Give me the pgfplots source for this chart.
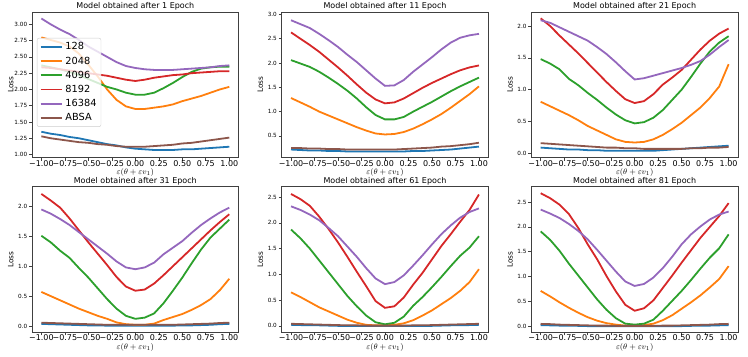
\documentclass[border=0pt]{standalone}
\usepackage{fontspec}
\setmainfont{DejaVu Sans}
\usepackage{pgfplots}
\usepackage{pgfplotstable}
\pgfplotsset{compat=1.18}
\usepgfplotslibrary{groupplots}
\usetikzlibrary{calc}

\definecolor{c0}{HTML}{1F77B4}
\definecolor{c1}{HTML}{FF7F0E}
\definecolor{c2}{HTML}{2CA02C}
\definecolor{c3}{HTML}{D62728}
\definecolor{c4}{HTML}{9467BD}
\definecolor{c5}{HTML}{8C564B}

% columns: b=128, o=2048, g=4096, r=8192, p=16384, a=ABSA
\pgfplotstableread{
x b o g r p a
-1.0 1.35 2.80 2.37 2.34 3.09 1.28
-0.9 1.32 2.76 2.34 2.33 3.00 1.25
-0.8 1.30 2.72 2.31 2.31 2.92 1.23
-0.7 1.27 2.66 2.27 2.29 2.85 1.21
-0.6 1.25 2.55 2.22 2.27 2.76 1.19
-0.5 1.22 2.38 2.16 2.25 2.66 1.18
-0.4 1.19 2.20 2.10 2.23 2.58 1.16
-0.3 1.16 2.00 2.04 2.21 2.50 1.15
-0.2 1.14 1.84 2.00 2.18 2.42 1.13
-0.1 1.11 1.74 1.95 2.15 2.36 1.12
0.0 1.09 1.70 1.92 2.13 2.33 1.12
0.1 1.08 1.70 1.92 2.15 2.31 1.12
0.2 1.07 1.72 1.95 2.18 2.30 1.13
0.3 1.07 1.74 2.02 2.20 2.30 1.14
0.4 1.07 1.77 2.10 2.22 2.30 1.15
0.5 1.08 1.82 2.19 2.23 2.31 1.17
0.6 1.08 1.86 2.27 2.25 2.32 1.18
0.7 1.09 1.90 2.32 2.26 2.33 1.20
0.8 1.10 1.95 2.34 2.27 2.34 1.22
0.9 1.11 2.00 2.35 2.28 2.36 1.24
1.0 1.12 2.04 2.35 2.28 2.37 1.26
}\epA

\pgfplotstableread{
x b o g r p a
-1.0 0.22 1.28 2.06 2.63 2.88 0.25
-0.9 0.21 1.19 1.99 2.50 2.80 0.25
-0.8 0.20 1.10 1.92 2.37 2.72 0.24
-0.7 0.20 1.00 1.82 2.23 2.60 0.24
-0.6 0.19 0.92 1.70 2.07 2.47 0.23
-0.5 0.19 0.84 1.57 1.91 2.33 0.23
-0.4 0.18 0.76 1.43 1.74 2.17 0.22
-0.3 0.18 0.68 1.27 1.56 2.02 0.22
-0.2 0.18 0.61 1.09 1.39 1.85 0.22
-0.1 0.18 0.55 0.93 1.25 1.68 0.22
0.0 0.18 0.53 0.84 1.17 1.53 0.22
0.1 0.18 0.54 0.84 1.19 1.54 0.22
0.2 0.18 0.58 0.89 1.27 1.65 0.23
0.3 0.19 0.65 1.00 1.38 1.82 0.24
0.4 0.19 0.74 1.10 1.49 1.97 0.25
0.5 0.20 0.84 1.20 1.59 2.12 0.26
0.6 0.21 0.95 1.31 1.68 2.28 0.28
0.7 0.22 1.08 1.42 1.77 2.42 0.29
0.8 0.24 1.22 1.52 1.85 2.52 0.31
0.9 0.26 1.36 1.61 1.91 2.57 0.33
1.0 0.28 1.52 1.70 1.95 2.60 0.36
}\epB

\pgfplotstableread{
x b o g r p a
-1.0 0.09 0.81 1.48 2.12 2.09 0.16
-0.9 0.08 0.74 1.41 2.00 2.05 0.15
-0.8 0.07 0.67 1.32 1.85 1.98 0.14
-0.7 0.06 0.60 1.17 1.71 1.91 0.13
-0.6 0.06 0.52 1.07 1.57 1.84 0.12
-0.5 0.05 0.43 0.95 1.42 1.77 0.11
-0.4 0.05 0.36 0.84 1.27 1.67 0.10
-0.3 0.04 0.29 0.72 1.12 1.56 0.09
-0.2 0.04 0.22 0.61 0.98 1.43 0.09
-0.1 0.04 0.18 0.52 0.85 1.29 0.08
0.0 0.04 0.17 0.47 0.79 1.16 0.08
0.1 0.04 0.18 0.49 0.82 1.18 0.07
0.2 0.04 0.22 0.56 0.93 1.22 0.07
0.3 0.05 0.29 0.68 1.08 1.26 0.07
0.4 0.06 0.38 0.84 1.19 1.30 0.07
0.5 0.07 0.48 1.00 1.31 1.34 0.07
0.6 0.08 0.60 1.20 1.47 1.39 0.08
0.7 0.09 0.72 1.41 1.63 1.45 0.08
0.8 0.10 0.87 1.60 1.77 1.55 0.09
0.9 0.11 1.05 1.74 1.88 1.67 0.09
1.0 0.12 1.40 1.84 1.96 1.78 0.10
}\epC

\pgfplotstableread{
x b o g r p a
-1.0 0.035 0.57 1.51 2.21 1.95 0.055
-0.9 0.030 0.50 1.40 2.10 1.88 0.050
-0.8 0.025 0.43 1.26 1.98 1.79 0.045
-0.7 0.020 0.36 1.14 1.80 1.69 0.040
-0.6 0.015 0.29 0.97 1.60 1.57 0.035
-0.5 0.010 0.23 0.81 1.40 1.45 0.030
-0.4 0.010 0.17 0.63 1.21 1.33 0.025
-0.3 0.005 0.12 0.45 1.02 1.21 0.020
-0.2 0.005 0.06 0.29 0.82 1.08 0.020
-0.1 0.005 0.03 0.17 0.66 0.98 0.020
0.0 0.005 0.02 0.12 0.59 0.95 0.020
0.1 0.005 0.02 0.14 0.61 0.98 0.020
0.2 0.005 0.04 0.21 0.71 1.06 0.020
0.3 0.005 0.10 0.38 0.85 1.20 0.020
0.4 0.005 0.15 0.59 1.00 1.31 0.020
0.5 0.010 0.20 0.81 1.15 1.42 0.025
0.6 0.010 0.27 1.05 1.30 1.56 0.030
0.7 0.015 0.35 1.28 1.45 1.69 0.035
0.8 0.020 0.45 1.48 1.60 1.80 0.040
0.9 0.030 0.60 1.63 1.74 1.90 0.050
1.0 0.035 0.79 1.78 1.87 1.98 0.055
}\epD

\pgfplotstableread{
x b o g r p a
-1.0 0.020 0.65 1.87 2.56 2.32 0.040
-0.9 0.015 0.56 1.70 2.46 2.25 0.035
-0.8 0.010 0.46 1.50 2.33 2.16 0.030
-0.7 0.010 0.36 1.27 2.12 2.05 0.025
-0.6 0.005 0.28 1.04 1.88 1.90 0.020
-0.5 0.000 0.20 0.81 1.62 1.74 0.015
-0.4 0.000 0.12 0.58 1.34 1.54 0.010
-0.3 0.000 0.06 0.38 1.05 1.34 0.010
-0.2 0.000 0.02 0.20 0.77 1.12 0.005
-0.1 0.000 0.01 0.07 0.48 0.92 0.005
0.0 0.000 0.01 0.03 0.35 0.81 0.005
0.1 0.000 0.02 0.06 0.38 0.85 0.005
0.2 0.000 0.05 0.18 0.55 0.98 0.005
0.3 0.000 0.11 0.39 0.80 1.17 0.010
0.4 0.000 0.20 0.56 1.03 1.37 0.010
0.5 0.000 0.30 0.75 1.29 1.58 0.015
0.6 0.005 0.42 0.95 1.55 1.78 0.020
0.7 0.010 0.54 1.16 1.78 1.95 0.025
0.8 0.010 0.68 1.36 2.02 2.10 0.030
0.9 0.015 0.85 1.52 2.25 2.21 0.035
1.0 0.020 1.10 1.74 2.55 2.28 0.040
}\epE

\pgfplotstableread{
x b o g r p a
-1.0 0.020 0.71 1.91 2.68 2.35 0.045
-0.9 0.015 0.60 1.74 2.58 2.27 0.040
-0.8 0.010 0.48 1.52 2.45 2.18 0.030
-0.7 0.010 0.37 1.26 2.26 2.06 0.025
-0.6 0.005 0.27 1.02 1.98 1.92 0.020
-0.5 0.000 0.18 0.78 1.65 1.75 0.015
-0.4 0.000 0.11 0.54 1.35 1.54 0.010
-0.3 0.000 0.06 0.33 1.01 1.32 0.010
-0.2 0.000 0.03 0.16 0.70 1.10 0.005
-0.1 0.000 0.01 0.05 0.43 0.90 0.005
0.0 0.000 0.01 0.03 0.31 0.81 0.005
0.1 0.000 0.02 0.05 0.36 0.85 0.005
0.2 0.000 0.05 0.13 0.52 0.98 0.005
0.3 0.000 0.12 0.31 0.77 1.17 0.010
0.4 0.000 0.22 0.51 1.02 1.40 0.010
0.5 0.000 0.35 0.71 1.28 1.65 0.015
0.6 0.005 0.48 0.93 1.53 1.85 0.020
0.7 0.010 0.62 1.16 1.78 2.01 0.025
0.8 0.010 0.78 1.38 2.00 2.15 0.030
0.9 0.015 0.95 1.57 2.22 2.25 0.040
1.0 0.020 1.21 1.85 2.48 2.31 0.045
}\epF

\newcommand{\curves}[1]{%
  \addplot[c0] table[x=x,y=b]{#1};
  \addplot[c1] table[x=x,y=o]{#1};
  \addplot[c2] table[x=x,y=g]{#1};
  \addplot[c3] table[x=x,y=r]{#1};
  \addplot[c4] table[x=x,y=p]{#1};
  \addplot[c5] table[x=x,y=a]{#1};
}

\begin{document}
\begin{tikzpicture}
\begin{groupplot}[
  group style={group size=3 by 2, horizontal sep=43pt, vertical sep=29pt},
  scale only axis, width=207pt, height=146pt,
  xmin=-1.1, xmax=1.1,
  xtick={-1,-0.75,-0.5,-0.25,0,0.25,0.5,0.75,1},
  xticklabels={−1.00,−0.75,−0.50,−0.25,0.00,0.25,0.50,0.75,1.00},
  tick align=outside, xtick pos=bottom, ytick pos=left,
  major tick length=2.8pt,
  axis line style={black!75, line width=0.6pt},
  tick style={black!75, line width=0.6pt},
  xticklabel style={font=\fontsize{8}{9}\selectfont, inner sep=0pt, yshift=0.5pt},
  yticklabel style={font=\fontsize{5.7}{6}\selectfont, inner sep=0pt, xshift=-1.8pt},
  /pgf/number format/assume math mode=true,
  title style={font=\fontsize{8}{9}\selectfont, at={(0.5,1)}, anchor=base,
    inner sep=0pt, yshift=-3pt},
  xlabel={$\varepsilon(\theta+\varepsilon v_1)$},
  ylabel={Loss},
  xlabel style={font=\fontsize{8}{9}\selectfont, at={(0.5,0)}, anchor=north,
    inner sep=0pt, yshift=-10.5pt},
  ylabel style={font=\fontsize{7.3}{8}\selectfont, at={(axis description cs:-0.103,0.5)},
    anchor=center},
  every axis plot/.append style={line width=1.8pt, no marks},
]
\nextgroupplot[title={Model obtained after 1 Epoch},
  ymin=0.95, ymax=3.19, ytick={1,1.25,...,3.01},
  yticklabel style={/pgf/number format/.cd, fixed, fixed zerofill, precision=2},
  legend style={at={(0.024,0.822)}, anchor=north west,
    font=\fontsize{9.8}{11}\selectfont, fill=white, fill opacity=0.8,
    text opacity=1, draw=black!20, rounded corners=2pt,
    inner sep=2.5pt, row sep=1.4pt},
  legend cell align=left,
  legend image code/.code={\draw[#1, line width=1.8pt] (0pt,0pt) -- (22pt,0pt);}]
\curves{\epA}
\legend{128,2048,4096,8192,16384,ABSA}
\nextgroupplot[title={Model obtained after 11 Epoch},
  ymin=0.05, ymax=3.05, ytick={0.5,1,...,3.01},
  yticklabel style={/pgf/number format/.cd, fixed, fixed zerofill, precision=1}]
\curves{\epB}
\nextgroupplot[title={Model obtained after 21 Epoch},
  ymin=-0.07, ymax=2.22, ytick={0,0.5,...,2.01},
  yticklabel style={/pgf/number format/.cd, fixed, fixed zerofill, precision=1}]
\curves{\epC}
\nextgroupplot[title={Model obtained after 31 Epoch},
  ymin=-0.11, ymax=2.33, ytick={0,0.5,...,2.01},
  yticklabel style={/pgf/number format/.cd, fixed, fixed zerofill, precision=1}]
\curves{\epD}
\nextgroupplot[title={Model obtained after 61 Epoch},
  ymin=-0.13, ymax=2.70, ytick={0,0.5,...,2.51},
  yticklabel style={/pgf/number format/.cd, fixed, fixed zerofill, precision=1}]
\curves{\epE}
\nextgroupplot[title={Model obtained after 81 Epoch},
  ymin=-0.13, ymax=2.81, ytick={0,0.5,...,2.51},
  yticklabel style={/pgf/number format/.cd, fixed, fixed zerofill, precision=1}]
\curves{\epF}
\end{groupplot}
\pgfresetboundingbox
\path[use as bounding box] ($(group c1r1.north west)+(-32pt,12pt)$) rectangle ($(group c3r2.south east)+(10pt,-24pt)$);
\end{tikzpicture}
\end{document}
